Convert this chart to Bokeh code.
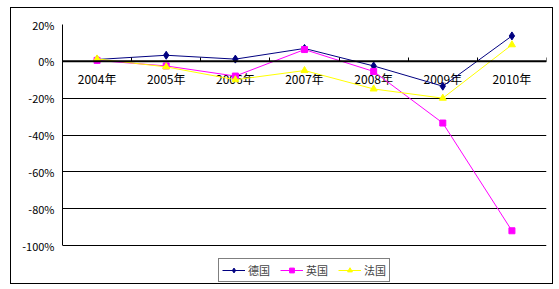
from bokeh.plotting import figure
from bokeh.models import (Range1d, LinearAxis, FixedTicker, Span,
                          PrintfTickFormatter, Legend, LegendItem, ColumnDataSource)
from bokeh.core.properties import value
from bokeh.embed import file_html
from bokeh.resources import INLINE

years = ["2004年", "2005年", "2006年", "2007年", "2008年", "2009年", "2010年"]
germany = [1.0, 3.3, 1.2, 7.0, -2.5, -13.5, 13.8]
uk = [0.5, -2.5, -8.0, 6.4, -5.5, -33.5, -92.0]
france = [1.3, -3.0, -10.0, -5.0, -15.0, -20.0, 9.0]
y_ticks = [20, 0, -20, -40, -60, -80, -100]
series_names = ["德国", "英国", "法国"]

FONT = "Noto Sans CJK SC"
n = len(years)
centers = [i + 0.5 for i in range(n)]

# frame extends below -100% to host the legend; axis line bounded to the data area
p = figure(frame_width=484, frame_height=259, x_range=Range1d(0, n), y_range=Range1d(-120.63, 20),
           output_backend="svg", toolbar_location=None, x_axis_location=None,
           min_border_left=51, min_border_right=6, min_border_top=16, min_border_bottom=0)
p.margin = (7, 0, 0, 10)
p.styles = {"border": "1px solid black"}
p.outline_line_color = None
p.background_fill_color = "white"
p.border_fill_color = "white"

# y axis
p.yaxis.ticker = FixedTicker(ticks=y_ticks)
p.yaxis.bounds = (-100, 20)
p.yaxis.formatter = PrintfTickFormatter(format="%d%%")
p.yaxis.major_tick_out = 0
p.yaxis.major_tick_in = 0
p.yaxis.minor_tick_line_color = None
p.yaxis.major_label_standoff = 8
p.yaxis.major_label_text_font = FONT
p.yaxis.major_label_text_font_size = "11px"
p.yaxis.major_label_text_color = "black"
p.yaxis.axis_line_color = "black"
p.ygrid.ticker = FixedTicker(ticks=y_ticks)
p.ygrid.grid_line_color = "black"
p.ygrid.grid_line_alpha = 1
p.xgrid.grid_line_color = None

# boundary tick marks on the zero line (axis crossing at 0)
bax = LinearAxis(fixed_location=0, ticker=FixedTicker(ticks=list(range(1, n + 1))))
bax.axis_line_color = None
bax.major_tick_in = 0
bax.major_tick_out = 4
bax.major_tick_line_color = "black"
bax.minor_tick_line_color = None
bax.major_label_standoff = 0
bax.major_label_text_font_size = "1px"
bax.major_label_text_alpha = 0
p.add_layout(bax, "above")

# thick zero line
p.add_layout(Span(location=0, dimension="width", line_color="black", line_width=2))

# category labels just below the zero line
p.text(x=centers, y=[0] * n, text=years, y_offset=9, text_align="center",
       text_baseline="top", text_font=value(FONT), text_font_size="12px", text_color="black")

colors = ["#000080", "#FF00FF", "#FFFF00"]
items = []
for name, vals, col, mk, sz in zip(series_names, [germany, uk, france], colors,
                                    ["diamond", "square", "triangle"], [8, 6, 7]):
    src = ColumnDataSource(dict(x=centers, y=vals))
    r1 = p.line("x", "y", source=src, line_color=col, line_width=1)
    r2 = p.scatter("x", "y", source=src, marker=mk, size=sz, fill_color=col, line_color=col)
    items.append(LegendItem(label=name, renderers=[r1, r2]))

legend = Legend(items=items, orientation="horizontal", location=(156, 1))
legend.border_line_color = "black"
legend.border_line_width = 1
legend.background_fill_color = "white"
legend.label_text_font = FONT
legend.label_text_font_size = "11px"
legend.glyph_width = 23
legend.glyph_height = 12
legend.label_height = 12
legend.label_standoff = 3
legend.spacing = 10
legend.padding = 3
legend.margin = 0
p.add_layout(legend, "center")

open("out.html", "w").write(file_html(p, INLINE))
